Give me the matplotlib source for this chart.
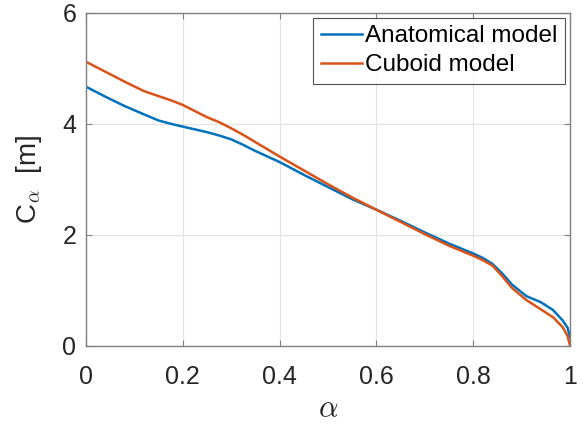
import matplotlib
matplotlib.use("Agg")
import matplotlib.pyplot as plt

# ---- data -------------------------------------------------------------------
alpha = [0.0, 0.04, 0.08, 0.12, 0.15, 0.18, 0.2, 0.25, 0.275, 0.3, 0.325,
         0.35, 0.4, 0.45, 0.5, 0.55, 0.6, 0.65, 0.7, 0.75, 0.8, 0.82, 0.84,
         0.86, 0.88, 0.91, 0.94, 0.965, 0.985, 0.995, 1.0]
anatomical = [4.67, 4.49, 4.32, 4.17, 4.06, 3.99, 3.95, 3.85, 3.79, 3.72,
              3.62, 3.51, 3.31, 3.08, 2.86, 2.64, 2.45, 2.25, 2.04, 1.84,
              1.66, 1.58, 1.47, 1.30, 1.10, 0.89, 0.78, 0.64, 0.45, 0.32,
              0.15]
cuboid = [5.12, 4.94, 4.76, 4.59, 4.50, 4.41, 4.34, 4.12, 4.03, 3.92,
          3.80, 3.67, 3.41, 3.16, 2.91, 2.67, 2.45, 2.23, 2.01, 1.80,
          1.62, 1.54, 1.44, 1.25, 1.04, 0.82, 0.65, 0.51, 0.33, 0.17,
          0.0]

xticks = [0, 0.2, 0.4, 0.6, 0.8, 1]
xticklabels = ["0", "0.2", "0.4", "0.6", "0.8", "1"]
yticks = [0, 2, 4, 6]
series_labels = ["Anatomical model", "Cuboid model"]

plt.rcParams["font.family"] = ["Liberation Sans", "DejaVu Sans"]
plt.rcParams["mathtext.fontset"] = "cm"

fig = plt.figure(figsize=(5.84, 4.26), dpi=100)
ax = fig.add_axes([86 / 584, 1 - 345.5 / 426, 484 / 584, 332.5 / 426])

ax.plot(alpha, anatomical, color="#0072BD", lw=1.8, label=series_labels[0])
ax.plot(alpha, cuboid, color="#D95319", lw=1.8, label=series_labels[1])

ax.set_xlim(0, 1)
ax.set_ylim(0, 6)
ax.set_xticks(xticks)
ax.set_xticklabels(xticklabels)
ax.set_yticks(yticks)
ax.grid(True, color="#e3e3e3", lw=0.8)
ax.set_axisbelow(True)
ax.tick_params(direction="in", length=4, width=0.8, colors="#808080",
               labelcolor="#262626", labelsize=18, top=True, right=True)
ax.tick_params(axis="x", pad=14)
ax.tick_params(axis="y", pad=7)
for s in ax.spines.values():
    s.set_color("#808080")
    s.set_linewidth(1.0)

ax.set_xlabel(r"$\alpha$", fontsize=22, color="#262626", labelpad=4)
ax.set_ylabel(r"C$_{\alpha}$  [m]", fontsize=20, color="#262626", labelpad=13)

leg = ax.legend(loc="upper right", fontsize=17.5, frameon=True, fancybox=False,
                edgecolor="#262626", borderpad=0.3, labelspacing=0.3,
                handlelength=1.7, handletextpad=0.15, borderaxespad=0.2)
leg.get_frame().set_linewidth(0.8)

fig.savefig("out.png", dpi=100)
